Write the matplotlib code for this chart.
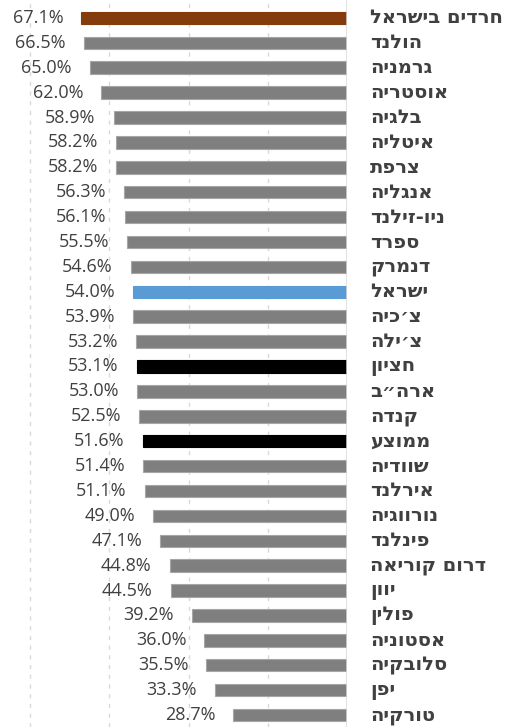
import matplotlib.pyplot as plt
import matplotlib.transforms as mtransforms

countries = ['חרדים בישראל', 'הולנד', 'גרמניה', 'אוסטריה', 'בלגיה', 'איטליה', 'צרפת',
             'אנגליה', 'ניו-זילנד', 'ספרד', 'דנמרק', 'ישראל', 'צ׳כיה', 'צ׳ילה', 'חציון',
             'ארה״ב', 'קנדה', 'ממוצע', 'שוודיה', 'אירלנד', 'נורווגיה', 'פינלנד',
             'דרום קוריאה', 'יוון', 'פולין', 'אסטוניה', 'סלובקיה', 'יפן', 'טורקיה']
values = [67.1, 66.5, 65.0, 62.0, 58.9, 58.2, 58.2, 56.3, 56.1, 55.5, 54.6, 54.0, 53.9,
          53.2, 53.1, 53.0, 52.5, 51.6, 51.4, 51.1, 49.0, 47.1, 44.8, 44.5, 39.2, 36.0,
          35.5, 33.3, 28.7]

special = {'חרדים בישראל': '#843C0C', 'ישראל': '#5B9BD5', 'חציון': '#000000', 'ממוצע': '#000000'}
colors = [special.get(c, '#7F7F7F') for c in countries]
edges = [special.get(c, '#A6A6A6') for c in countries]

fig = plt.figure(figsize=(5.19, 7.27), dpi=100)
ax = fig.add_axes([0, 0, 347 / 519, 1])

y = list(range(len(countries)))
ax.barh(y, values, height=0.5, color=colors, edgecolor=edges, linewidth=0.8, zorder=3)

ax.set_xlim(87.6, 0)
ax.set_ylim(28.48, -0.72)

for gx in [20, 40, 60, 80]:
    ax.axvline(gx, color='#D9D9D9', linewidth=1, linestyle=(0, (3, 4)), zorder=1)
ax.axvline(0, color='#D9D9D9', linewidth=1.8, zorder=4)

for yi, v in zip(y, values):
    ax.annotate(f'{v:.1f}%', xy=(v, yi), xytext=(-18, 0), textcoords='offset pixels',
                ha='right', va='center', fontsize=13, color='#404040', family='Open Sans')

trans = mtransforms.blended_transform_factory(fig.transFigure, ax.transData)
for yi, c in zip(y, countries):
    ax.text(370 / 519, yi, c[::-1], transform=trans, ha='left', va='center',
            fontsize=14, fontweight='bold', color='#404040',
            family=['DejaVu Sans'], clip_on=False)

ax.set_xticks([])
ax.set_yticks([])
for s in ax.spines.values():
    s.set_visible(False)

fig.savefig('out.png', dpi=100)
